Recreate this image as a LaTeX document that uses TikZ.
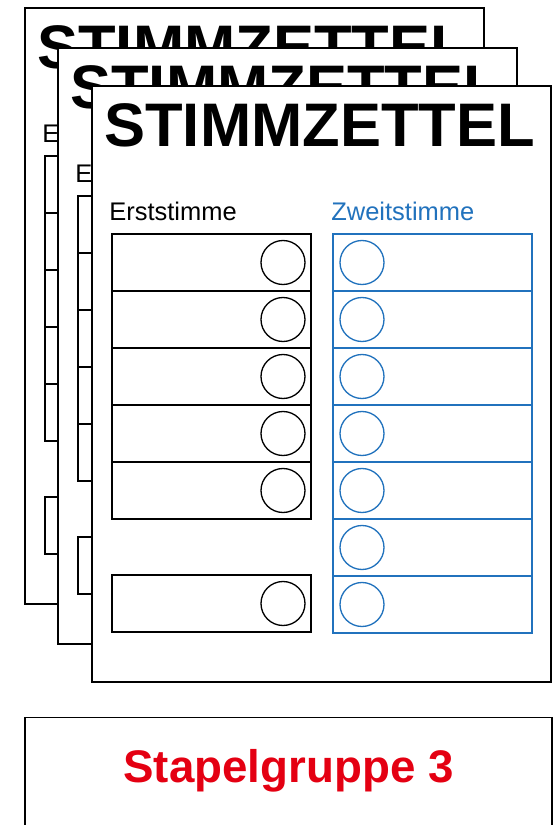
\documentclass[tikz,border=0pt]{standalone}
\usepackage{fontspec}
\setmainfont{Liberation Sans}
\usetikzlibrary{positioning}
\definecolor{zweitblau}{RGB}{33,114,189}
\definecolor{stapelrot}{RGB}{228,0,18}

\begin{document}
\begin{tikzpicture}[x=0.02cm, y=-0.02cm,
  sheet/.style={draw, fill=white, line width=1.1pt},
  row/.style={draw, line width=0.9pt},
  rowblue/.style={draw=zweitblau, line width=0.9pt},
  kreis/.style={line width=0.75pt},
  titlefont/.style={inner sep=0pt, font=\fontsize{35}{35}\selectfont\bfseries},
  headfont/.style={inner sep=0pt, font=\fontsize{14.5}{14.5}\selectfont}]
  \useasboundingbox (0,0) rectangle (556,825);
  \foreach \dx/\dy/\i in {-67/-78/1, -34/-38/2, 0/0/3} {
    \begin{scope}[shift={(\dx,\dy)}]
      \draw[sheet] (92,86) rectangle (551,682);
      \node[titlefont, anchor=base west] (titel\i) at (104,146) {STIMMZETTEL};
      \node[headfont, anchor=base west] (erst\i) at (109,220) {Erststimme};
      \node[headfont, anchor=base west, text=zweitblau] (zweit\i) at (331,220) {Zweitstimme};
      \foreach \r in {0,...,4} {
        \draw[row] (112,234+57*\r) rectangle +(199,57);
        \draw[kreis] (283,262.5+57*\r) circle[radius=22];
      }
      \draw[row] (112,575) rectangle +(199,57);
      \draw[kreis] (283,603.5) circle[radius=22];
      \foreach \r in {0,...,6} {
        \draw[rowblue] (333,234+57*\r) rectangle +(199,57);
        \draw[kreis, zweitblau] (362,262.5+57*\r) circle[radius=22];
      }
    \end{scope}
  }
  \draw[line width=1.1pt] (25,830) -- (25,717.5) -- (552,717.5) -- (552,830);
  \node[inner sep=0pt, anchor=base, text=stapelrot, font=\fontsize{26}{26}\selectfont\bfseries]
    (gruppe) at (288.5,782) {Stapelgruppe 3};
\end{tikzpicture}
\end{document}
